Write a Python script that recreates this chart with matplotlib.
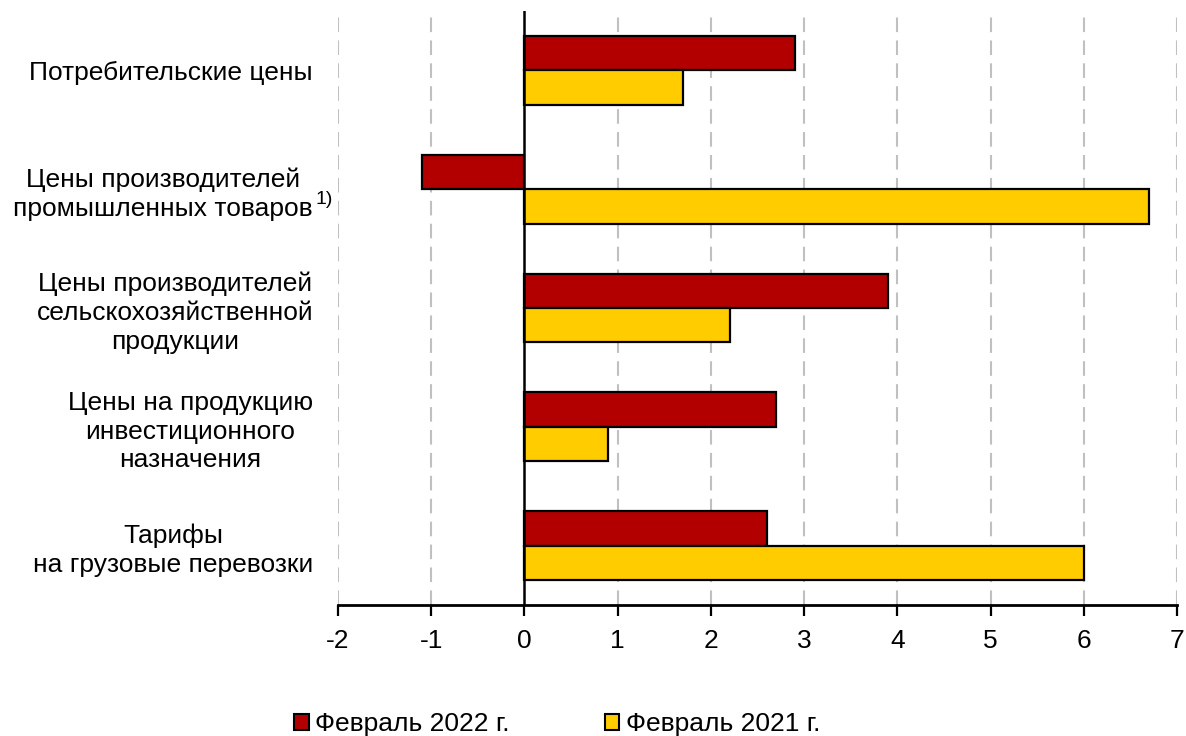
import numpy as np
import matplotlib
matplotlib.use("Agg")
import matplotlib.pyplot as plt
from matplotlib.patches import Patch

plt.rcParams['font.family'] = ['Liberation Sans', 'DejaVu Sans']

categories = [
    "Потребительские цены",
    "Цены производителей\nпромышленных товаров",
    "Цены производителей\nсельскохозяйственной\nпродукции",
    "Цены на продукцию\nинвестиционного\nназначения",
    "Тарифы\nна грузовые перевозки",
]
feb_2022 = [2.9, -1.1, 3.9, 2.7, 2.6]
feb_2021 = [1.7, 6.7, 2.2, 0.9, 6.0]
series_names = ["Февраль 2022 г.", "Февраль 2021 г."]
xticks = list(range(-2, 8))

red = "#B20000"
yellow = "#FFCC00"

fig = plt.figure(figsize=(11.86, 7.36), dpi=100)
ax = fig.add_axes([0.285, 0.178, 0.7075, 0.807])

y = np.arange(len(categories))
h = 0.29
ax.barh(y - h / 2, feb_2022, height=h, color=red, edgecolor="black", linewidth=1.6, zorder=3)
ax.barh(y + h / 2, feb_2021, height=h, color=yellow, edgecolor="black", linewidth=1.6, zorder=3)

ax.set_xlim(-2, 7)
ax.set_ylim(len(categories) - 0.5, -0.5)

# dashed grid, solid zero line
for v in xticks:
    if v != 0:
        ax.axvline(v, color="#c0c0c0", lw=1.5, ls=(0, (7, 4)), zorder=1)
ax.axvline(0, color="black", lw=1.8, zorder=4)

ax.set_xticks(xticks)
ax.set_xticklabels([str(v) for v in xticks], fontsize=19)
ax.tick_params(axis="x", direction="out", length=8, width=1.6, pad=9, colors="black")

ax.set_yticks(y)
ax.set_yticklabels(categories, fontsize=19, multialignment="center", linespacing=1.25)
ax.tick_params(axis="y", length=0, pad=18)

for s in ["left", "top", "right"]:
    ax.spines[s].set_visible(False)
ax.spines["bottom"].set_linewidth(2)
ax.spines["bottom"].set_zorder(5)

# footnote mark next to the second label
lbl = ax.get_yticklabels()[1]
ax.annotate("1)", xy=(1.0, 0.0), xycoords=lbl, xytext=(2, 9), textcoords="offset points",
            fontsize=14, ha="left", va="bottom")

handles = [Patch(facecolor=red, edgecolor="black", linewidth=1.5),
           Patch(facecolor=yellow, edgecolor="black", linewidth=1.5)]
fig.legend(handles, series_names, loc="center", bbox_to_anchor=(0.47, 1 - 724 / 736),
           ncol=2, frameon=False, fontsize=19, handlelength=0.55, handleheight=0.55,
           handletextpad=0.25, columnspacing=3.6)

fig.savefig("out.png", dpi=100)
